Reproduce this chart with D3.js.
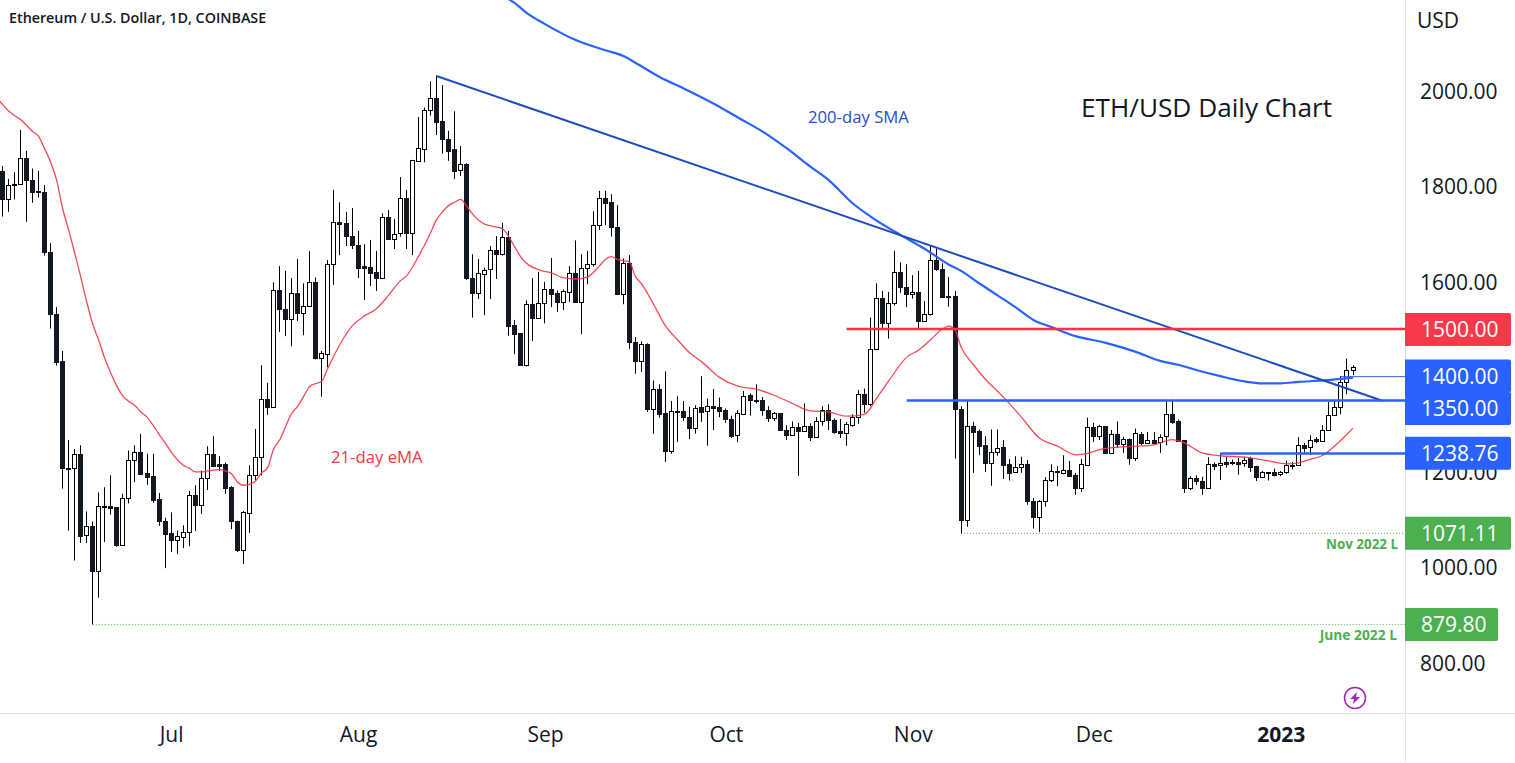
<!DOCTYPE html>
<html><head><meta charset="utf-8">
<script src="https://cdn.jsdelivr.net/npm/d3@7"></script>
<style>html,body{margin:0;padding:0;background:#fff;overflow:hidden}svg{display:block}</style>
</head><body><svg id="c" width="1515" height="763"></svg>
<script>
const firstDay = Date.UTC(2022, 5, 3);
const opens = [1832,1772,1803,1804,1858,1812,1790,1787,1661,1531,1432,1208,1208,1237,1067,1086,993,1127,1128,1126,1047,1145,1224,1241,1198,1191,1143,1098,1071,1058,1064,1073,1151,1131,1187,1237,1216,1216,1168,1096,1037,1113,1193,1231,1354,1337,1581,1541,1522,1575,1534,1549,1598,1440,1448,1636,1724,1722,1696,1677,1632,1630,1620,1608,1736,1689,1701,1776,1702,1853,1878,1959,1984,1936,1898,1877,1833,1846,1608,1575,1616,1625,1665,1657,1694,1508,1491,1425,1552,1524,1554,1585,1575,1556,1578,1617,1557,1629,1636,1718,1774,1766,1715,1574,1638,1472,1433,1468,1333,1375,1323,1244,1327,1327,1316,1293,1336,1327,1338,1336,1329,1312,1277,1322,1361,1352,1352,1331,1314,1323,1289,1278,1294,1286,1296,1274,1306,1331,1310,1285,1282,1299,1315,1363,1343,1459,1566,1513,1554,1619,1589,1573,1577,1517,1531,1644,1626,1569,1569,1333,1100,1296,1285,1256,1219,1241,1252,1216,1199,1210,1216,1140,1105,1138,1184,1203,1198,1205,1193,1167,1215,1294,1276,1296,1240,1279,1259,1270,1230,1279,1261,1266,1262,1275,1321,1306,1266,1167,1187,1182,1167,1216,1214,1220,1219,1221,1218,1229,1212,1189,1198,1199,1195,1199,1213,1214,1256,1252,1269,1264,1289,1319,1336,1388,1415];
const highs = [1842,1815,1829,1918,1874,1837,1832,1802,1680,1546,1454,1267,1248,1256,1117,1096,1157,1168,1193,1126,1154,1245,1256,1280,1238,1238,1156,1104,1115,1077,1088,1160,1172,1203,1254,1275,1233,1220,1170,1098,1118,1214,1290,1424,1387,1598,1632,1622,1607,1647,1596,1663,1608,1454,1645,1792,1766,1746,1754,1706,1678,1687,1664,1743,1750,1731,1819,1792,1855,1945,1965,2020,2032,2012,1916,1957,1884,1848,1657,1647,1629,1674,1695,1723,1706,1519,1491,1560,1607,1620,1599,1649,1581,1583,1632,1686,1657,1664,1747,1790,1790,1783,1760,1648,1655,1483,1474,1470,1392,1384,1411,1349,1359,1349,1337,1340,1401,1354,1374,1356,1333,1318,1330,1370,1365,1384,1357,1338,1326,1323,1298,1306,1303,1344,1302,1315,1338,1342,1312,1311,1305,1321,1372,1375,1524,1596,1580,1578,1664,1640,1636,1613,1622,1559,1676,1669,1638,1609,1580,1338,1349,1305,1289,1275,1289,1289,1267,1227,1233,1232,1225,1145,1141,1189,1216,1212,1235,1223,1198,1227,1314,1303,1299,1296,1288,1306,1274,1270,1291,1284,1284,1284,1279,1351,1352,1310,1267,1191,1193,1190,1231,1220,1239,1231,1226,1229,1232,1232,1213,1202,1200,1207,1202,1224,1221,1273,1261,1277,1273,1298,1347,1351,1401,1438,1424];
const lows = [1736,1746,1772,1804,1725,1765,1776,1654,1501,1423,1165,1077,1014,1051,1051,880,936,1053,1110,1043,1045,1134,1179,1196,1173,1135,1087,998,1032,1028,1040,1044,1076,1112,1162,1213,1202,1154,1080,1032,1007,1072,1183,1193,1320,1337,1494,1485,1464,1517,1487,1547,1436,1358,1420,1593,1655,1674,1668,1607,1561,1590,1580,1606,1687,1668,1694,1668,1655,1851,1850,1948,1907,1868,1853,1815,1821,1603,1524,1563,1529,1563,1605,1654,1486,1447,1425,1421,1475,1524,1512,1546,1536,1540,1557,1555,1489,1594,1631,1708,1718,1694,1574,1552,1458,1406,1410,1326,1280,1314,1221,1238,1263,1307,1269,1280,1305,1255,1288,1315,1303,1271,1263,1320,1318,1344,1318,1305,1307,1289,1267,1276,1192,1284,1265,1271,1297,1288,1280,1271,1255,1295,1301,1324,1338,1459,1501,1480,1549,1576,1546,1564,1502,1515,1528,1622,1566,1547,1228,1071,1085,1198,1235,1200,1171,1234,1185,1182,1198,1198,1131,1081,1074,1127,1179,1170,1195,1190,1152,1158,1214,1263,1267,1238,1240,1250,1240,1215,1223,1256,1261,1261,1240,1256,1301,1265,1156,1162,1173,1152,1165,1204,1183,1209,1214,1194,1211,1200,1181,1187,1182,1191,1191,1196,1205,1214,1240,1236,1261,1263,1286,1319,1321,1363,1403];
const closes = [1772,1802,1804,1858,1812,1788,1787,1661,1531,1431,1208,1207,1237,1066,1086,993,1128,1128,1125,1047,1145,1224,1241,1196,1190,1142,1098,1070,1058,1065,1073,1151,1131,1187,1237,1213,1213,1167,1096,1037,1115,1193,1231,1354,1337,1581,1541,1522,1575,1534,1548,1598,1440,1449,1636,1724,1721,1696,1677,1629,1629,1618,1608,1736,1689,1699,1776,1702,1854,1879,1959,1984,1935,1898,1874,1832,1846,1608,1575,1617,1623,1665,1657,1694,1507,1490,1425,1552,1524,1554,1585,1574,1557,1579,1617,1557,1629,1636,1718,1774,1765,1715,1574,1638,1472,1433,1468,1333,1375,1322,1244,1327,1325,1316,1293,1335,1326,1338,1335,1328,1312,1276,1323,1360,1352,1351,1331,1314,1323,1289,1278,1294,1286,1296,1274,1306,1331,1310,1284,1282,1300,1315,1363,1343,1459,1566,1513,1554,1619,1589,1573,1577,1517,1531,1644,1626,1568,1568,1333,1100,1296,1284,1255,1219,1241,1251,1215,1198,1211,1216,1140,1106,1138,1184,1203,1199,1205,1192,1167,1216,1294,1276,1296,1240,1279,1259,1270,1230,1281,1261,1266,1261,1274,1321,1305,1265,1167,1187,1181,1167,1216,1213,1218,1217,1220,1217,1226,1211,1189,1199,1199,1194,1199,1214,1214,1256,1251,1268,1264,1289,1319,1336,1388,1415,1420];

const emaDays = [-1,0,1,2,3,5,6,7,8,9,10,11,12,13,14,15,16,17,18,19,20,21,22,23,24,25,26,27,28,29,30,31,32,33,34,35,36,37,38,39,40,41,42,43,44,45,46,48,49,50,51,53,54,56,58,60,62,64,66,67,69,71,72,73,74,75,76,77,78,80,82,83,85,86,89,91,93,95,97,99,100,101,102,104,105,106,108,110,112,114,116,119,122,125,128,131,134,137,140,143,145,147,150,152,154,156,157,158,159,161,163,165,167,169,172,175,178,180,182,185,188,191,194,196,199,202,206,210,213,215,217,219,221,223,224];
const emaValues = [1987,1972,1958,1948,1940,1915,1905,1879,1851,1813,1753,1708,1660,1610,1557,1510,1476,1438,1407,1380,1359,1348,1339,1326,1315,1298,1279,1261,1242,1226,1214,1208,1200,1200,1202,1204,1205,1202,1196,1179,1172,1174,1181,1198,1209,1248,1267,1323,1338,1359,1380,1391,1418,1468,1506,1527,1542,1570,1601,1611,1652,1701,1729,1746,1759,1766,1772,1758,1741,1720,1714,1710,1672,1651,1624,1618,1608,1605,1609,1632,1646,1652,1646,1641,1610,1595,1552,1506,1477,1450,1431,1398,1380,1374,1361,1344,1328,1326,1317,1321,1355,1391,1441,1456,1478,1501,1506,1498,1462,1426,1395,1370,1344,1315,1271,1254,1236,1239,1247,1252,1254,1257,1268,1261,1240,1234,1231,1223,1217,1219,1227,1235,1255,1279,1292];

const smaDays = [84,85,87,90,95,100,103,105,109,113,118,122,127,130,134,137,141,144,149,153,157,159,162,165,168,171,174,178,183,188,192,195,198,202,206,209,212,215,219,224];
const smaValues = [2192,2184,2163,2140,2107,2085,2073,2059,2029,2005,1973,1944,1907,1880,1841,1813,1764,1736,1697,1668,1635,1622,1596,1571,1546,1519,1504,1485,1471,1452,1433,1425,1414,1401,1390,1386,1386,1389,1392,1398];

const trendDays = [72, 229];
const trendValues = [2031, 1349];

const levelValues = [1500, 1350, 1238.76, 1400];
const levelStartDays = [140, 150, 202, 222];
const levelWidths = [2.5, 2.5, 2.5, 1];
const levelColors = ["#f23645", "#2962ff", "#2962ff", "#2962ff"];

const lowValues = [1071.11, 879.80];
const lowStartDays = [159, 15];
const lowNames = ["Nov 2022 L", "June 2022 L"];

const priceTicks = [800,1000,1200,1600,1800,2000];
const monthTicks = [[2022,6,"Jul"],[2022,7,"Aug"],[2022,8,"Sep"],[2022,9,"Oct"],[2022,10,"Nov"],[2022,11,"Dec"],[2023,0,"2023"]];

const FONT = "'Open Sans', sans-serif";
const svg = d3.select("#c");
const plotRight = 1405, axisY = 713;

const dayDate = i => new Date(firstDay + i * 864e5);
const x = d3.scaleUtc().domain([dayDate(0), dayDate(224)]).range([2.3, 1353]);
const y = d3.scaleLinear().domain([800, 2000]).range([662.5, 90.8]);
const xd = i => x(dayDate(i));

svg.append("defs").append("clipPath").attr("id","plot")
  .append("rect").attr("x",0).attr("y",0).attr("width",plotRight).attr("height",axisY);
const plot = svg.append("g").attr("clip-path","url(#plot)");

// axis frame
svg.append("line").attr("x1",0).attr("x2",1515).attr("y1",713.5).attr("y2",713.5).attr("stroke","#e0e3eb");
svg.append("line").attr("x1",1405.5).attr("x2",1405.5).attr("y1",0).attr("y2",762).attr("stroke","#e0e3eb");

// low guides
lowValues.forEach((v,k)=>{
  plot.append("line").attr("x1",xd(lowStartDays[k])).attr("x2",plotRight)
    .attr("y1",y(v)).attr("y2",y(v)).attr("stroke","#4caf50").attr("stroke-width",1).attr("stroke-dasharray","1 2");
});

// candles
const candles = d3.range(opens.length).map(i=>({i,o:opens[i],h:highs[i],l:lows[i],c:closes[i]}));
const cg = plot.append("g");
const px = d => Math.round(xd(d.i)-0.5)+0.5;
cg.selectAll("line.w").data(candles).join("line").attr("class","w")
  .attr("x1",px).attr("x2",px).attr("y1",d=>y(d.h)).attr("y2",d=>y(d.l))
  .attr("stroke","#000").attr("stroke-width",1);
cg.selectAll("rect.b").data(candles).join("rect").attr("class","b")
  .attr("x",d=>px(d)-2).attr("width",4)
  .attr("y",d=>Math.round(y(Math.max(d.o,d.c)))+0.5)
  .attr("height",d=>Math.max(1,Math.round(y(Math.min(d.o,d.c)))-Math.round(y(Math.max(d.o,d.c)))))
  .attr("fill",d=>d.c>=d.o?"#fff":"#131722")
  .attr("stroke",d=>d.c>=d.o?"#000":"#131722").attr("stroke-width",1);

// moving averages
const line = d3.line().x(d=>xd(d[0])).y(d=>y(d[1])).curve(d3.curveMonotoneX);
plot.append("path").attr("d",line(d3.zip(emaDays,emaValues))).attr("fill","none")
  .attr("stroke","#f23645").attr("stroke-width",1.3).attr("stroke-opacity",.9);
plot.append("path").attr("d",line(d3.zip(smaDays,smaValues))).attr("fill","none")
  .attr("stroke","#2962ff").attr("stroke-width",2.2);

// drawn lines
plot.append("path").attr("d",d3.line().x(d=>xd(d[0])).y(d=>y(d[1]))(d3.zip(trendDays,trendValues)))
  .attr("fill","none").attr("stroke","#1e4bc0").attr("stroke-width",2);
levelValues.forEach((v,k)=>{
  plot.append("line").attr("x1",xd(levelStartDays[k])).attr("x2",plotRight)
    .attr("y1",y(v)).attr("y2",y(v)).attr("stroke",levelColors[k]).attr("stroke-width",levelWidths[k]);
});

// annotations
const txt = (s,xx,yy,size,fill,weight,anchor)=>svg.append("text").text(s).attr("x",xx).attr("y",yy)
  .attr("font-family",FONT).attr("font-size",size).attr("fill",fill)
  .attr("font-weight",weight||400).attr("text-anchor",anchor||"start");
txt("Ethereum / U.S. Dollar, 1D, COINBASE",9,23,14.3,"#131722",600);
txt("ETH/USD Daily Chart",1081,117,26.2,"#131722",400);
txt("200-day SMA",808,123,16.7,"#2450c8",400);
txt("21-day eMA",331,463,16.7,"#f23645",400);
txt(lowNames[0],1398,549,13.4,"#4caf50",700,"end");
txt(lowNames[1],1397,640,13.8,"#4caf50",700,"end");
txt("USD",1417,28,21,"#131722",400);

// price axis
const ya = d3.axisRight(y).tickValues(priceTicks).tickFormat(d3.format(".2f")).tickSize(0).tickPadding(15);
const yg = svg.append("g").attr("transform",`translate(${plotRight},1)`).call(ya);
yg.select(".domain").remove();
yg.selectAll("text").attr("font-family",FONT).attr("font-size",21).attr("fill","#131722");

// time axis
const monthDates = monthTicks.map(m=>new Date(Date.UTC(m[0],m[1],1)));
const xa = d3.axisBottom(x).tickValues(monthDates)
  .tickFormat((d,i)=>monthTicks[i][2]).tickSize(0).tickPadding(14);
const xg = svg.append("g").attr("transform",`translate(0,${axisY})`).call(xa);
xg.select(".domain").remove();
xg.selectAll("text").attr("font-family",FONT).attr("font-size",21).attr("fill","#131722")
  .attr("font-weight",(d,i)=>monthTicks[i][2]==="2023"?700:400);

// price boxes
const boxValues = [1500,1400,1350,1238.76,1071.11,879.80];
const boxColors = ["#f7394b","#2962ff","#2962ff","#2962ff","#4caf50","#4caf50"];
const boxWidths = [106,106,106,106,106,93];
const boxCenters = [329.5,376,408.5,453.3,533.3,624.5];
boxValues.forEach((v,k)=>{
  svg.append("path").attr("fill",boxColors[k])
    .attr("d",`M${plotRight},${boxCenters[k]-16.5}h${boxWidths[k]-2}q2,0 2,2v29q0,2 -2,2h-${boxWidths[k]-2}z`);
  svg.append("text").text(d3.format(".2f")(v)).attr("x",plotRight+16).attr("y",boxCenters[k]+7.5)
    .attr("font-family",FONT).attr("font-size",21).attr("fill","#fff");
});

// flash icon
const icon = svg.append("g").attr("transform","translate(1355,698)");
icon.append("circle").attr("r",10.5).attr("fill","none").attr("stroke","#9c27b0").attr("stroke-width",1.5);
icon.append("path").attr("d","M2,-6L-5,1H-1L-2,6L5,-1H1Z").attr("fill","#9c27b0");
</script></body></html>
